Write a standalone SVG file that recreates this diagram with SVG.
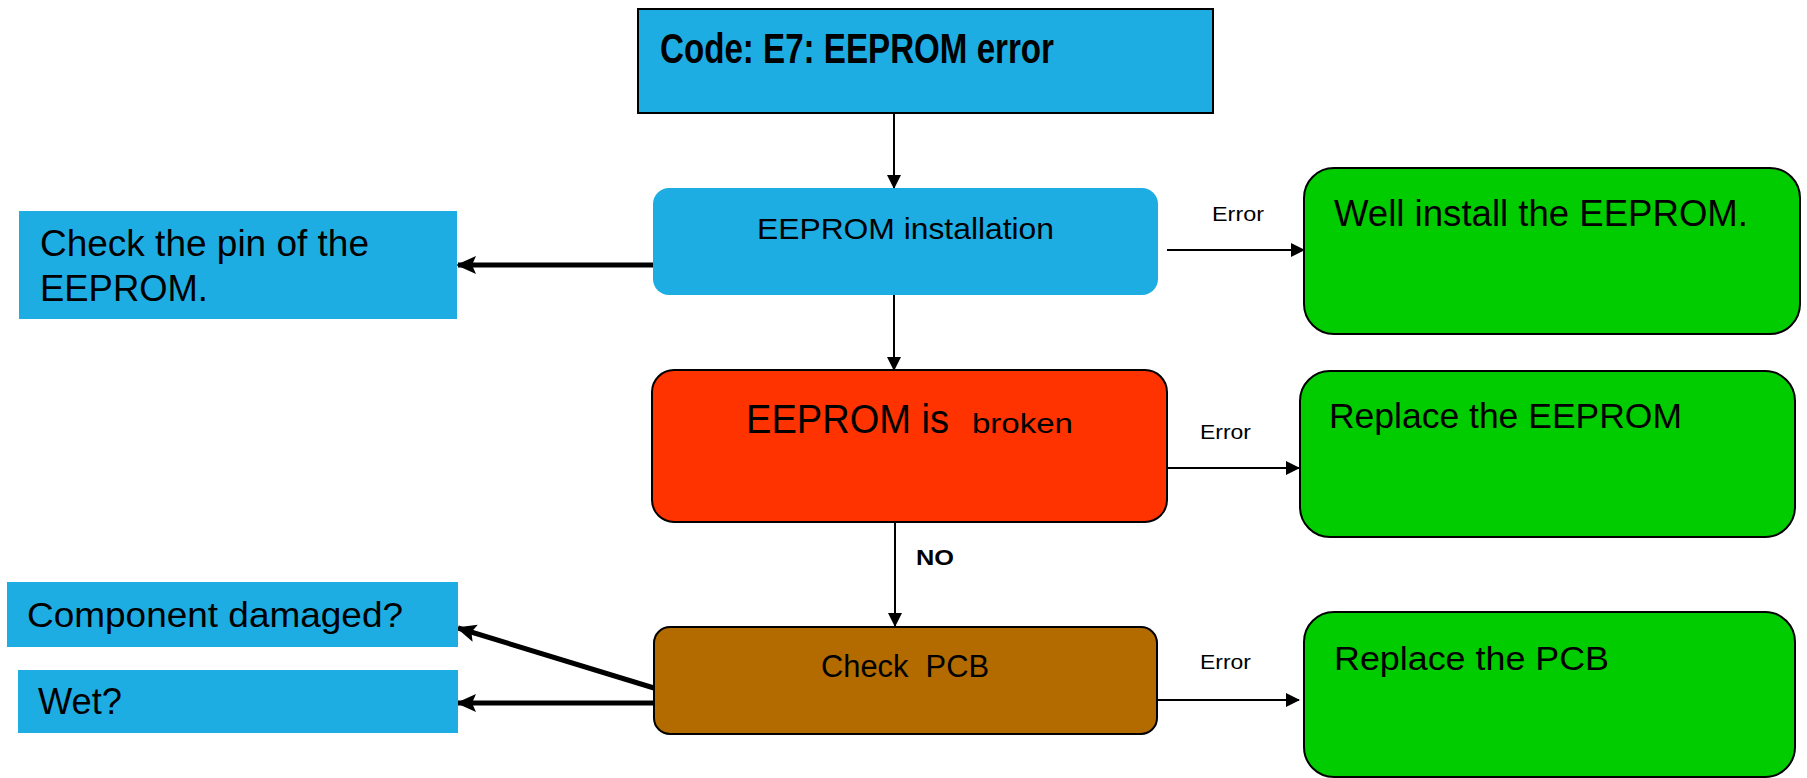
<svg xmlns="http://www.w3.org/2000/svg" width="1807" height="778" viewBox="0 0 1807 778">
<defs>
<marker id="ah" markerWidth="14" markerHeight="14" refX="13" refY="7" orient="auto" markerUnits="userSpaceOnUse"><path d="M0,0 L14,7 L0,14 Z" fill="#000"/></marker>
<marker id="ahb" markerWidth="20" markerHeight="20" refX="18" refY="10" orient="auto" markerUnits="userSpaceOnUse"><path d="M0,1 L20,10 L0,19 L4,10 Z" fill="#000"/></marker>
<style>
.t{font-family:"Liberation Sans",Arial,sans-serif;fill:#000}
.blue{fill:#1EADE2}
.green{fill:#00CC00;stroke:#000;stroke-width:2}
.thin{stroke:#000;stroke-width:2;fill:none;marker-end:url(#ah)}
.thick{stroke:#000;stroke-width:5;fill:none;marker-end:url(#ahb)}
</style>
</defs>
<rect width="1807" height="778" fill="#fff"/>
<g id="connectors">
<line class="thin" x1="894" y1="113" x2="894" y2="188"/>
<line class="thin" x1="894" y1="295" x2="894" y2="370"/>
<line class="thin" x1="895" y1="522" x2="895" y2="626"/>
<line class="thin" x1="1167" y1="250" x2="1304" y2="250"/>
<line class="thin" x1="1167" y1="468" x2="1299" y2="468"/>
<line class="thin" x1="1157" y1="700" x2="1299" y2="700"/>
<line class="thick" x1="653" y1="265" x2="458" y2="265"/>
<line class="thick" x1="654" y1="688" x2="458" y2="628"/>
<line class="thick" x1="654" y1="703" x2="458" y2="703"/>
<text class="t" x="1212" y="221" font-size="21" textLength="52" lengthAdjust="spacingAndGlyphs">Error</text>
<text class="t" x="1200" y="439" font-size="21" textLength="51" lengthAdjust="spacingAndGlyphs">Error</text>
<text class="t" x="1200" y="669" font-size="21" textLength="51" lengthAdjust="spacingAndGlyphs">Error</text>
<text class="t" x="916" y="565" font-size="22" font-weight="bold" textLength="38" lengthAdjust="spacingAndGlyphs">NO</text>
</g>
<g id="n-code">
<rect x="638" y="9" width="575" height="104" fill="#1EADE2" stroke="#000" stroke-width="2"/>
<text class="t" x="660" y="63" font-size="42" font-weight="bold" textLength="394" lengthAdjust="spacingAndGlyphs">Code: E7: EEPROM error</text>
</g>
<g id="n-install">
<rect class="blue" x="653" y="188" width="505" height="107" rx="16"/>
<text class="t" x="757" y="239" font-size="30" textLength="297" lengthAdjust="spacingAndGlyphs">EEPROM installation</text>
</g>
<g id="n-pin">
<rect class="blue" x="19" y="211" width="438" height="108"/>
<text class="t" x="40" y="256" font-size="36" textLength="329" lengthAdjust="spacingAndGlyphs">Check the pin of the</text>
<text class="t" x="40" y="301" font-size="36" textLength="168" lengthAdjust="spacingAndGlyphs">EEPROM.</text>
</g>
<g id="n-well">
<rect class="green" x="1304" y="168" width="496" height="166" rx="30"/>
<text class="t" x="1334" y="226" font-size="36" textLength="414" lengthAdjust="spacingAndGlyphs">Well install the EEPROM.</text>
</g>
<g id="n-broken">
<rect x="652" y="370" width="515" height="152" rx="22" fill="#FF3300" stroke="#000" stroke-width="2"/>
<text class="t" x="746" y="433" font-size="40" textLength="203" lengthAdjust="spacingAndGlyphs">EEPROM is</text>
<text class="t" x="972" y="433" font-size="27" textLength="101" lengthAdjust="spacingAndGlyphs">broken</text>
</g>
<g id="n-replace-eeprom">
<rect class="green" x="1300" y="371" width="495" height="166" rx="30"/>
<text class="t" x="1329" y="428" font-size="35" textLength="353" lengthAdjust="spacingAndGlyphs">Replace the EEPROM</text>
</g>
<g id="n-pcb">
<rect x="654" y="627" width="503" height="107" rx="16" fill="#B36B00" stroke="#000" stroke-width="2"/>
<text class="t" x="821" y="677" font-size="31" textLength="168" lengthAdjust="spacingAndGlyphs" xml:space="preserve">Check  PCB</text>
</g>
<g id="n-replace-pcb">
<rect class="green" x="1304" y="612" width="491" height="165" rx="30"/>
<text class="t" x="1334" y="670" font-size="34" textLength="275" lengthAdjust="spacingAndGlyphs">Replace the PCB</text>
</g>
<g id="n-damaged">
<rect class="blue" x="7" y="582" width="451" height="65"/>
<text class="t" x="27" y="627" font-size="35" textLength="376" lengthAdjust="spacingAndGlyphs">Component damaged?</text>
</g>
<g id="n-wet">
<rect class="blue" x="18" y="670" width="440" height="63"/>
<text class="t" x="38" y="714" font-size="36" textLength="84" lengthAdjust="spacingAndGlyphs">Wet?</text>
</g>
</svg>
